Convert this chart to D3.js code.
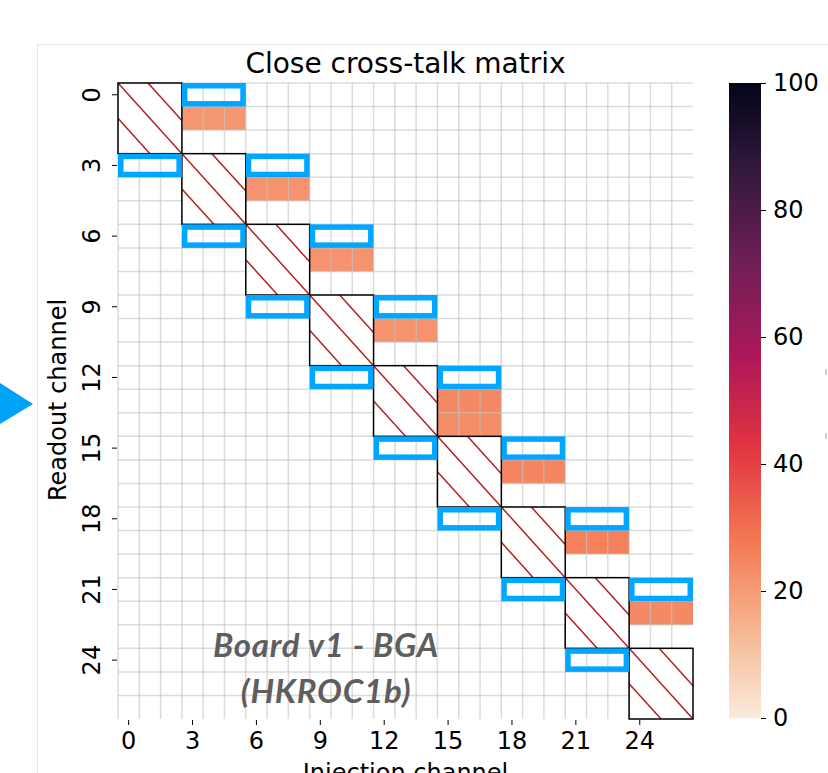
<!DOCTYPE html>
<html>
<head>
<meta charset="utf-8">
<script src="https://cdn.jsdelivr.net/npm/d3@7"></script>
<style>
  body { margin: 0; background: #fff; }
  text { font-family: "DejaVu Sans", sans-serif; }
</style>
</head>
<body>
<div id="crosstalk"></div>
<script>
// readout / injection channels (both axes)
var channels = [0,1,2,3,4,5,6,7,8,9,10,11,12,13,14,15,16,17,18,19,20,21,22,23,24,25,26];
var tickLabels = [0,3,6,9,12,15,18,21,24];

// first channel of each self (diagonal) 3x3 block
var blockStarts = [0,3,6,9,12,15,18,21,24];

// measured cross-talk cells: readout row, first injection col, 3 values (%)
var xtalkRows = [1,4,7,10,13,14,16,19,22];
var xtalkCols = [3,6,9,12,15,15,18,21,24];
var xtalkValues = [
  [21,21,21],
  [22,22,22],
  [22,22,22],
  [22,22,22],
  [24,24,24],
  [23,23,23],
  [25,25,25],
  [26,26,26],
  [24,24,24]
];

// highlighted (blue) 1x3 regions: row, first col
var boxRows = [0,3,3,6,6,9,9,12,12,15,15,18,18,21,21,24];
var boxCols = [3,0,6,3,9,6,12,9,15,12,18,15,21,18,24,21];

var cbarTicks = [0,20,40,60,80,100];

// rocket colormap stops (used reversed)
var rocketPos = [0, 1/7, 2/7, 3/7, 4/7, 5/7, 6/7, 1];
var rocketHex = ["#03051a","#35193e","#701f57","#ad1759","#e13342","#f37651","#f6b48f","#faebdd"];

var width = 828, height = 773;
var svg = d3.select("#crosstalk")
    .append("svg")
    .attr("width", width)
    .attr("height", height);

var x = d3.scaleBand().domain(channels).range([118, 693]);
var y = d3.scaleBand().domain(channels).range([83, 719]);

var color = d3.scaleLinear()
    .domain(rocketPos.map(function(p) { return 100 * p; }))
    .range(rocketHex.slice().reverse())
    .interpolate(d3.interpolateRgb);

// outer light frame
svg.append("rect")
    .attr("x", 37.5).attr("y", 44.5)
    .attr("width", 900).attr("height", 900)
    .attr("fill", "none")
    .attr("stroke", "#e6e6e6");

// blue pointer triangle on the left
svg.append("path")
    .attr("d", "M0,383 L33,404 L0,424 Z")
    .attr("fill", "#00a2f6");

// small gray marks cut off at right edge
[369, 433].forEach(function(yy) {
  svg.append("rect").attr("x", 825).attr("y", yy).attr("width", 2).attr("height", 6).attr("fill", "#cfcfcf");
});

// title
svg.append("text")
    .attr("x", (x.range()[0] + x.range()[1]) / 2)
    .attr("y", 73)
    .attr("text-anchor", "middle")
    .style("font-size", "28px")
    .text("Close cross-talk matrix");

// cross-talk cells
var cells = [];
xtalkRows.forEach(function(r, i) {
  xtalkValues[i].forEach(function(v, j) {
    cells.push({row: r, col: xtalkCols[i] + j, value: v});
  });
});

svg.append("g").selectAll("rect")
    .data(cells)
  .enter().append("rect")
    .attr("x", function(d) { return x(d.col); })
    .attr("y", function(d) { return y(d.row); })
    .attr("width", x.bandwidth())
    .attr("height", y.bandwidth())
    .attr("fill", function(d) { return color(d.value); });

// grid lines
var grid = svg.append("g")
    .attr("stroke", "#bdbdbd")
    .attr("stroke-opacity", 0.55)
    .attr("stroke-width", 1.5);

grid.selectAll(".vline")
    .data(channels)
  .enter().append("line")
    .attr("x1", function(d) { return x(d); })
    .attr("x2", function(d) { return x(d); })
    .attr("y1", y.range()[0])
    .attr("y2", y.range()[1]);

grid.selectAll(".hline")
    .data(channels)
  .enter().append("line")
    .attr("y1", function(d) { return y(d); })
    .attr("y2", function(d) { return y(d); })
    .attr("x1", x.range()[0])
    .attr("x2", x.range()[1]);

// diagonal blocks with hatch
var blocks = svg.append("g");
blockStarts.forEach(function(b) {
  var x0 = x(b), y0 = y(b);
  var w = x.bandwidth() * 3, h = y.bandwidth() * 3;
  blocks.append("rect")
      .attr("x", x0).attr("y", y0)
      .attr("width", w).attr("height", h)
      .attr("fill", "#fff");
  [-0.5, 0, 0.47].forEach(function(d) {
    // line: (x - x0)/w = (y - y0)/h + d
    var t0 = Math.max(0, -d), t1 = Math.min(1, 1 - d);
    blocks.append("line")
        .attr("x1", x0 + (t0 + d) * w).attr("y1", y0 + t0 * h)
        .attr("x2", x0 + (t1 + d) * w).attr("y2", y0 + t1 * h)
        .attr("stroke", "#b22222")
        .attr("stroke-width", 1.5);
  });
  blocks.append("rect")
      .attr("x", x0).attr("y", y0)
      .attr("width", w).attr("height", h)
      .attr("fill", "none")
      .attr("stroke", "#000")
      .attr("stroke-width", 1.5);
});

// blue boxes
svg.append("g").selectAll("rect")
    .data(boxRows.map(function(r, i) { return {row: r, col: boxCols[i]}; }))
  .enter().append("rect")
    .attr("x", function(d) { return x(d.col) + 2.75; })
    .attr("y", function(d) { return y(d.row) + 2.75; })
    .attr("width", x.bandwidth() * 3 - 5.5)
    .attr("height", y.bandwidth() - 5.5)
    .attr("fill", "none")
    .attr("stroke", "#00a6ff")
    .attr("stroke-width", 5.5);

// axes
var xAxis = svg.append("g")
    .attr("transform", "translate(0," + (y.range()[1] + 1) + ")")
    .call(d3.axisBottom(x).tickValues(tickLabels).tickSize(5).tickPadding(7));
xAxis.select(".domain").remove();
xAxis.selectAll("text").style("font-size", "24px").attr("fill", "#000");

var yAxis = svg.append("g")
    .attr("transform", "translate(" + (x.range()[0] - 1) + ",0)")
    .call(d3.axisLeft(y).tickValues(tickLabels).tickSize(5));
yAxis.select(".domain").remove();
yAxis.selectAll("text")
    .attr("transform", "rotate(-90)")
    .attr("x", 0).attr("y", -17).attr("dy", 0)
    .attr("text-anchor", "middle")
    .attr("fill", "#000")
    .style("font-size", "24px");

svg.append("text")
    .attr("transform", "translate(66,400) rotate(-90)")
    .attr("text-anchor", "middle")
    .style("font-size", "24px")
    .text("Readout channel");

svg.append("text")
    .attr("x", (x.range()[0] + x.range()[1]) / 2)
    .attr("y", 781)
    .attr("text-anchor", "middle")
    .style("font-size", "24px")
    .text("Injection channel");

// annotation
var note = svg.append("text")
    .attr("text-anchor", "middle")
    .attr("fill", "#5e5e5e")
    .style("font-family", "Lato, sans-serif")
    .style("font-weight", "bold")
    .style("font-style", "italic")
    .style("font-size", "33px")
    .style("letter-spacing", "0.8px");
note.append("tspan").attr("x", 326).attr("y", 657).text("Board v1 - BGA");
note.append("tspan").attr("x", 326).attr("y", 703).text("(HKROC1b)");

// colorbar
var cbX = 729, cbW = 32;
var cbY = d3.scaleLinear().domain([0, 100]).range([718, 83]);

var grad = svg.append("defs").append("linearGradient")
    .attr("id", "cbar")
    .attr("x1", 0).attr("y1", 1).attr("x2", 0).attr("y2", 0);
d3.range(0, 101, 2).forEach(function(v) {
  grad.append("stop").attr("offset", v + "%").attr("stop-color", color(v));
});

svg.append("rect")
    .attr("x", cbX).attr("y", cbY(100))
    .attr("width", cbW).attr("height", cbY(0) - cbY(100))
    .attr("fill", "url(#cbar)");

var cAxis = svg.append("g")
    .attr("transform", "translate(" + (cbX + cbW) + ",0)")
    .call(d3.axisRight(cbY).tickValues(cbarTicks).tickSize(5).tickPadding(7));
cAxis.select(".domain").remove();
cAxis.selectAll("text").style("font-size", "24px").attr("fill", "#000");
</script>
</body>
</html>
